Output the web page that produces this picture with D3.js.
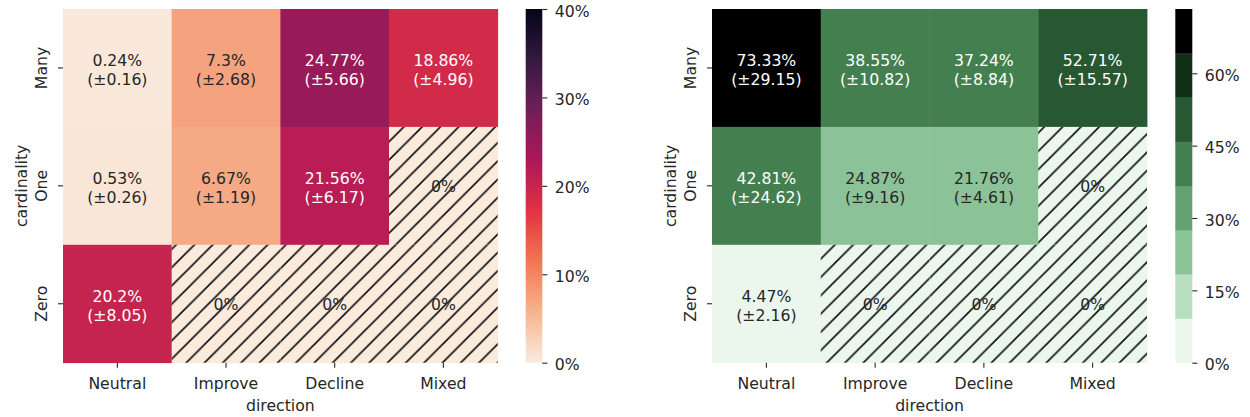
<!DOCTYPE html>
<html>
<head>
<meta charset="utf-8">
<script src="https://cdn.jsdelivr.net/npm/d3@7"></script>
<style>
  body { margin: 0; background: #fff; }
  svg { display: block; font-family: "DejaVu Sans", sans-serif; }
</style>
</head>
<body>
<svg id="chart" width="1250" height="417"></svg>
<script>
// ---- data ----
const directions = ["Neutral", "Improve", "Decline", "Mixed"];
const cardinalities = ["Many", "One", "Zero"];

// left panel: share (%) and its error, rows = cardinality, cols = direction
const shareLeft = [
  [0.24, 7.3, 24.77, 18.86],
  [0.53, 6.67, 21.56, 0],
  [20.2, 0, 0, 0]
];
const errLeft = [
  [0.16, 2.68, 5.66, 4.96],
  [0.26, 1.19, 6.17, 0],
  [8.05, 0, 0, 0]
];

// right panel
const shareRight = [
  [73.33, 38.55, 37.24, 52.71],
  [42.81, 24.87, 21.76, 0],
  [4.47, 0, 0, 0]
];
const errRight = [
  [29.15, 10.82, 8.84, 15.57],
  [24.62, 9.16, 4.61, 0],
  [2.16, 0, 0, 0]
];

const ticksLeft = [0, 10, 20, 30, 40];
const ticksRight = [0, 15, 30, 45, 60];
const vmaxLeft = 40;

// ---- colour maps ----
// "rocket" key colours, evenly spaced from dark to light
const rocketStops = ["#03051a", "#35193e", "#701f57", "#ad1759", "#e13342", "#f37651", "#f6b48f", "#faebdd"];
const rocket = d3.piecewise(d3.interpolateRgb, rocketStops);
const rocketR = t => rocket(1 - Math.max(0, Math.min(1, t)));

// cubehelix palette (start=2, rot=0, light=.95, dark=0), light -> dark
function cubehelixPalette(n, start, rot, gamma, hue, light, dark) {
  const fn = (p0, p1) => x => {
    const xg = Math.pow(x, gamma);
    const a = hue * xg * (1 - xg) / 2;
    const phi = 2 * Math.PI * (start / 3 + rot * x);
    return xg + a * (p0 * Math.cos(phi) + p1 * Math.sin(phi));
  };
  const r = fn(-0.14861, 1.78277), g = fn(-0.29227, -0.90649), b = fn(1.97294, 0.0);
  const cl = v => Math.round(255 * Math.max(0, Math.min(1, v)));
  const out = [];
  for (let i = 0; i < n; i++) {
    const x = light + (dark - light) * i / (n - 1);
    out.push(d3.rgb(cl(r(x)), cl(g(x)), cl(b(x))).formatHex());
  }
  return out;
}
const greens = cubehelixPalette(8, 2, 0, 1, 0.8, 0.95, 0);

function luminance(c) {
  const rgb = d3.rgb(c);
  const lin = v => { v /= 255; return v <= 0.03928 ? v / 12.92 : Math.pow((v + 0.055) / 1.055, 2.4); };
  return 0.2126 * lin(rgb.r) + 0.7152 * lin(rgb.g) + 0.0722 * lin(rgb.b);
}

const svg = d3.select("#chart");
const defs = svg.append("defs");
const textDark = "#262626";
const fontSize = 15.7;

function drawPanel(cfg) {
  const g = svg.append("g");
  const x = d3.scaleBand().domain(directions).range(cfg.xRange);
  const y = d3.scaleBand().domain(cardinalities).range([9, 362.7]);
  const cScale = d3.scaleLinear().domain([0, cfg.vmax]).range([362.7, 9]);

  // hatch pattern for empty cells
  const s = 18.3;
  const pat = defs.append("pattern")
    .attr("id", cfg.id + "-hatch")
    .attr("patternUnits", "userSpaceOnUse")
    .attr("width", s).attr("height", s);
  pat.append("path")
    .attr("d", `M${-s / 2},${s / 2}L${s / 2},${-s / 2}M0,${s}L${s},0M${s / 2},${1.5 * s}L${1.5 * s},${s / 2}`)
    .attr("stroke", "#111").attr("stroke-width", 1.7).attr("fill", "none");

  const cells = [];
  cardinalities.forEach((r, i) => directions.forEach((c, j) => {
    cells.push({ row: r, col: c, v: cfg.values[i][j], e: cfg.errors[i][j] });
  }));

  const cell = g.selectAll("g.cell").data(cells).join("g").attr("class", "cell");
  cell.append("rect")
    .attr("x", d => x(d.col)).attr("y", d => y(d.row))
    .attr("width", x.bandwidth() + 0.4).attr("height", y.bandwidth() + 0.4)
    .attr("fill", d => cfg.color(d.v));
  cell.filter(d => d.v === 0).append("rect")
    .attr("x", d => x(d.col)).attr("y", d => y(d.row))
    .attr("width", x.bandwidth()).attr("height", y.bandwidth())
    .attr("fill", `url(#${cfg.id}-hatch)`);

  cell.each(function (d) {
    const sel = d3.select(this);
    const cx = x(d.col) + x.bandwidth() / 2;
    const cy = y(d.row) + y.bandwidth() / 2;
    const fill = luminance(cfg.color(d.v)) > 0.408 ? textDark : "#ffffff";
    const t = sel.append("text")
      .attr("text-anchor", "middle")
      .attr("font-size", fontSize)
      .attr("fill", fill);
    if (d.v === 0) {
      t.attr("x", cx).attr("y", cy + 6.5).text("0%");
    } else {
      t.append("tspan").attr("x", cx).attr("y", cy - 2).text(d.v + "%");
      t.append("tspan").attr("x", cx).attr("y", cy + 17).text("(\u00b1" + d.e + ")");
    }
  });

  // axes
  const xAxis = g.append("g").attr("transform", "translate(0,362.7)")
    .call(d3.axisBottom(x).tickSize(5).tickPadding(10));
  xAxis.select(".domain").remove();
  xAxis.selectAll("line").attr("stroke", textDark).attr("stroke-width", 1.1);
  xAxis.selectAll("text").attr("font-size", fontSize).attr("fill", textDark)
    .attr("font-family", "DejaVu Sans, sans-serif");

  const yAxis = g.append("g").attr("transform", `translate(${cfg.xRange[0]},0)`)
    .call(d3.axisLeft(y).tickSize(5).tickPadding(0));
  yAxis.select(".domain").remove();
  yAxis.selectAll("line").attr("stroke", textDark).attr("stroke-width", 1.1);
  yAxis.selectAll("text")
    .attr("x", null).attr("dy", null)
    .attr("transform", "translate(-22,0) rotate(-90)")
    .attr("text-anchor", "middle")
    .attr("dominant-baseline", "central")
    .attr("font-size", fontSize).attr("fill", textDark)
    .attr("font-family", "DejaVu Sans, sans-serif");

  g.append("text")
    .attr("x", (cfg.xRange[0] + cfg.xRange[1]) / 2).attr("y", 411)
    .attr("text-anchor", "middle").attr("font-size", fontSize).attr("fill", textDark)
    .text("direction");
  g.append("text")
    .attr("transform", `translate(${cfg.xRange[0] - 42},${(9 + 362.7) / 2}) rotate(-90)`)
    .attr("text-anchor", "middle").attr("dominant-baseline", "central")
    .attr("font-size", fontSize).attr("fill", textDark)
    .text("cardinality");

  // colour bar
  const [cb0, cb1] = cfg.cbRange;
  const cb = g.append("g");
  if (cfg.discrete) {
    const n = cfg.palette.length;
    const bands = d3.range(n).map(i => ({ lo: cfg.vmax * i / n, hi: cfg.vmax * (i + 1) / n, c: cfg.palette[i] }));
    cb.selectAll("rect").data(bands).join("rect")
      .attr("x", cb0).attr("width", cb1 - cb0)
      .attr("y", d => cScale(d.hi)).attr("height", d => cScale(d.lo) - cScale(d.hi) + 0.3)
      .attr("fill", d => d.c);
  } else {
    const grad = defs.append("linearGradient").attr("id", cfg.id + "-grad")
      .attr("x1", 0).attr("y1", 1).attr("x2", 0).attr("y2", 0);
    d3.range(0, 1.0001, 0.02).forEach(t => {
      grad.append("stop").attr("offset", t).attr("stop-color", cfg.color(t * cfg.vmax));
    });
    cb.append("rect").attr("x", cb0).attr("width", cb1 - cb0)
      .attr("y", cScale(cfg.vmax)).attr("height", cScale(0) - cScale(cfg.vmax))
      .attr("fill", `url(#${cfg.id}-grad)`);
  }
  const cbAxis = g.append("g").attr("transform", `translate(${cb1},0)`)
    .call(d3.axisRight(cScale).tickValues(cfg.ticks).tickSize(5).tickPadding(7.5)
      .tickFormat(d => d + "%"));
  cbAxis.select(".domain").remove();
  cbAxis.selectAll("line").attr("stroke", textDark).attr("stroke-width", 1.1);
  cbAxis.selectAll("text").attr("dy", "0.45em").attr("font-size", fontSize).attr("fill", textDark)
    .attr("font-family", "DejaVu Sans, sans-serif");
}

drawPanel({
  id: "left",
  xRange: [63, 497.7],
  values: shareLeft,
  errors: errLeft,
  vmax: vmaxLeft,
  color: v => rocketR(v / vmaxLeft),
  ticks: ticksLeft,
  cbRange: [525.7, 542.3],
  discrete: false
});

const vmaxRight = d3.max(shareRight.flat());
const greenScale = d3.scaleQuantize().domain([0, vmaxRight]).range(greens);
drawPanel({
  id: "right",
  xRange: [712, 1147],
  values: shareRight,
  errors: errRight,
  vmax: vmaxRight,
  color: v => greenScale(Math.min(v, vmaxRight * 0.99999)),
  palette: greens,
  ticks: ticksRight,
  cbRange: [1175.3, 1192.3],
  discrete: true
});
</script>
</body>
</html>
